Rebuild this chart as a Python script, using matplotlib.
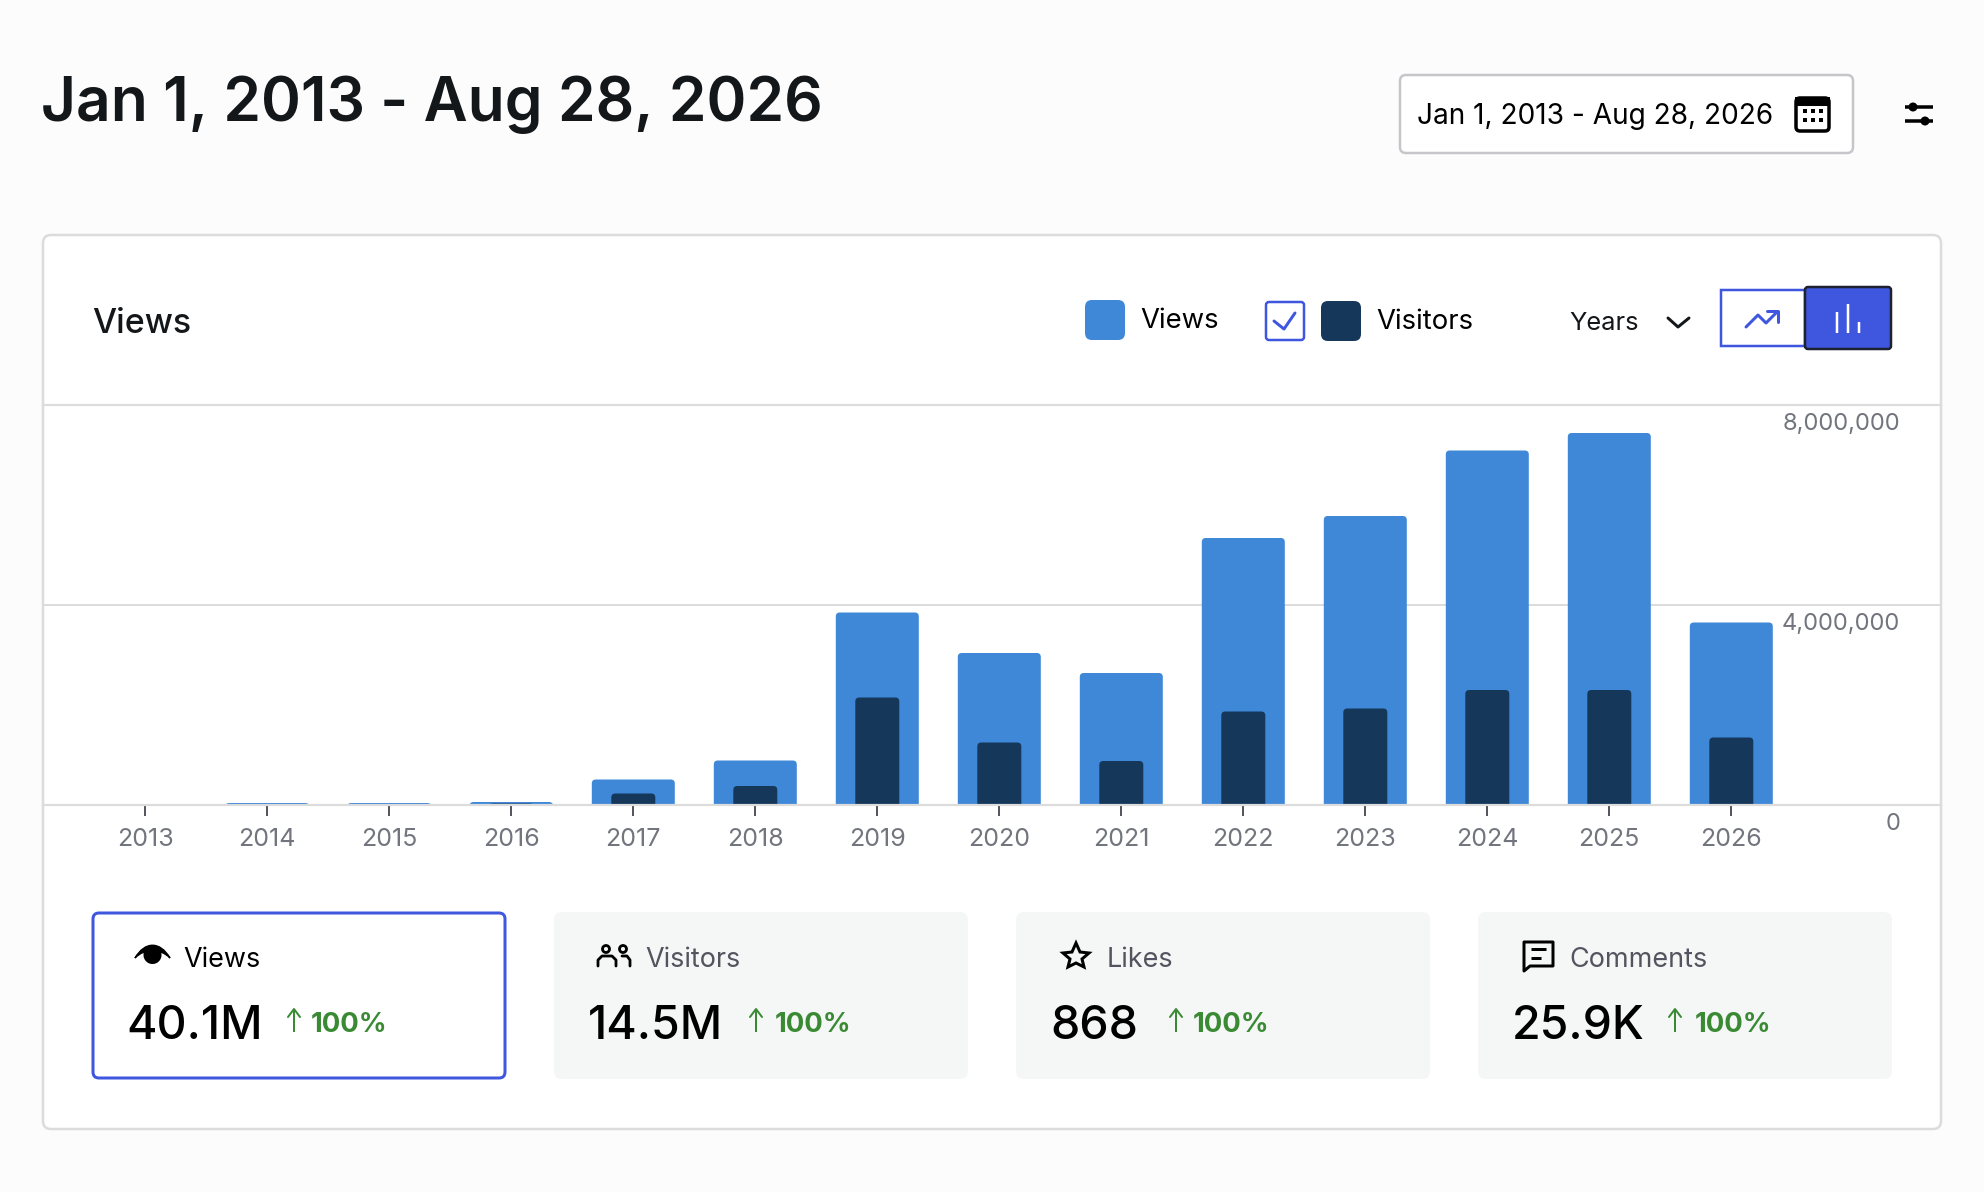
import matplotlib
matplotlib.use("Agg")
import matplotlib.pyplot as plt
import matplotlib.transforms as mtransforms
from matplotlib.patches import FancyBboxPatch, Rectangle, Circle, Wedge, Polygon, PathPatch
from matplotlib.path import Path
from matplotlib.lines import Line2D

# values
years = [2013, 2014, 2015, 2016, 2017, 2018, 2019, 2020, 2021, 2022, 2023, 2024, 2025, 2026]
views = [5000, 40000, 40000, 60000, 510000, 890000, 3850000, 3040000, 2640000,
         5340000, 5780000, 7090000, 7440000, 3650000]
visitors = [1000, 20000, 20000, 30000, 230000, 380000, 2150000, 1250000, 880000,
            1870000, 1930000, 2300000, 2300000, 1350000]
y_ticks = [0, 4000000, 8000000]
y_tick_labels = ["0", "4,000,000", "8,000,000"]

date_range = "Jan 1, 2013 - Aug 28, 2026"
stat_names = ["Views", "Visitors", "Likes", "Comments"]
stat_values = ["40.1M", "14.5M", "868", "25.9K"]
stat_change = "100%"

BLUE = "#3F88D8"
NAVY = "#15375A"
ACCENT = "#3F57DE"
GREEN = "#3A8A34"
GRID = "#DCDCDC"
GREY = "#72757D"

W, H = 1984, 1192
DPI = 100
PX = 72 / DPI  # one pixel in points

plt.rcParams["font.family"] = ["Inter", "DejaVu Sans"]

fig = plt.figure(figsize=(W / DPI, H / DPI), dpi=DPI, facecolor="#FCFCFC")

# page layer, in pixels
ui = fig.add_axes([0, 0, 1, 1])
ui.set_xlim(0, W)
ui.set_ylim(H, 0)
ui.axis("off")


def box(x0, y0, x1, y1, fc, ec="none", lw=0, r=6, z=1):
    ui.add_patch(FancyBboxPatch((x0 + r, y0 + r), x1 - x0 - 2 * r, y1 - y0 - 2 * r,
                                boxstyle=f"round,pad={r},rounding_size={r}",
                                fc=fc, ec=ec, lw=lw * PX, zorder=z))


def txt(x, y, s, size, color="black", weight="normal", ha="left"):
    ui.text(x, y, s, fontsize=size * PX, color=color, fontweight=weight,
            ha=ha, va="center_baseline", zorder=5)


def line(xs, ys, color="black", lw=2, z=6, cap="round"):
    ui.add_line(Line2D(xs, ys, color=color, lw=lw * PX, zorder=z,
                       solid_capstyle=cap, solid_joinstyle="round"))


# header
txt(41, 98, date_range, 60.5, "#14171A", "semibold")
box(1400, 75, 1853, 153, "white", "#C6C6CA", 2.5)
txt(1417, 114, date_range, 28, "black")
box(1796, 98, 1829, 131, "white", "black", 3.5, r=4, z=3)
ui.add_patch(Rectangle((1795, 97), 35, 9, fc="black", zorder=4))
for gx in [1805, 1813, 1821]:
    for gy in [111, 120]:
        ui.add_patch(Rectangle((gx - 2, gy - 2), 4, 4, fc="black", zorder=4))
line([1905, 1933], [107, 107], lw=3.5, cap="butt")
line([1905, 1933], [121, 121], lw=3.5, cap="butt")
ui.add_patch(Circle((1913, 107), 4.5, fc="black", zorder=6))
ui.add_patch(Circle((1925, 121), 4.5, fc="black", zorder=6))

# main card
box(43, 235, 1941, 1129, "white", GRID, 2.5, r=8, z=0.5)
txt(92, 320.5, "Views", 34, "#14171A", "medium")

# legend and switches
box(1085, 300, 1125, 340, BLUE, r=7)
txt(1140, 318, "Views", 27.5)
box(1266, 302, 1304, 340, "white", ACCENT, 2.5, r=3)
line([1274, 1284, 1295], [321, 329, 313], ACCENT, 3)
box(1321, 301, 1361, 341, NAVY, r=7)
txt(1376, 319, "Visitors", 27.5)
txt(1569, 321, "Years", 25.5, "#14171A")
line([1668, 1678, 1689], [318, 327, 318], "#14171A", 3)
ui.add_patch(Rectangle((1721, 290), 84, 56, fc="white", ec=ACCENT, lw=2.5 * PX, zorder=2))
line([1746, 1758, 1766, 1777], [327, 315, 323, 312], ACCENT, 3)
line([1767, 1778, 1778], [311, 311, 322], ACCENT, 3)
box(1805, 287, 1891, 349, ACCENT, "#1E2230", 2.5, r=3, z=3)
for bx, top in zip([1837, 1848, 1859], [312, 304, 322]):
    line([bx, bx], [top, 333], "white", 2.5, cap="butt")

# stat cards
card_x = [(93, 505), (554, 968), (1016, 1430), (1478, 1892)]
name_x = [183, 645, 1107, 1569]
value_x = [126, 588, 1050, 1512]
arrow_x = [294, 756, 1176, 1675]
pct_x = [311, 775, 1193, 1695]
for i in range(4):
    x0, x1 = card_x[i]
    if i == 0:
        box(x0, 913, x1, 1078, "white", ACCENT, 3, r=6)
    else:
        box(x0, 912, x1, 1079, "#F5F7F6", r=8)
    txt(name_x[i], 957, stat_names[i], 27, "black" if i == 0 else "#52555F")
    txt(value_x[i], 1022, stat_values[i], 46.5, "black", "medium")
    ax_ = arrow_x[i]
    line([ax_, ax_], [1010, 1032], GREEN, 2, cap="butt")
    line([ax_ - 6, ax_, ax_ + 6], [1017, 1009, 1017], GREEN, 2)
    txt(pct_x[i], 1022, stat_change, 27.5, GREEN, "bold")

# eye icon
ui.add_patch(PathPatch(Path([(135, 958), (145, 941), (160, 941), (170, 958), (160, 948), (145, 948), (135, 958)],
                            [Path.MOVETO, Path.CURVE4, Path.CURVE4, Path.CURVE4, Path.CURVE4, Path.CURVE4, Path.CURVE4]),
                       fc="black", ec="black", lw=1, zorder=6))
ui.add_patch(Wedge((152.5, 955), 9, 0, 360, fc="black", zorder=6))

# people icon
for cx in [606, 623]:
    ui.add_patch(Circle((cx, 949), 3.5, fc="none", ec="black", lw=2.8 * PX, zorder=6))
line([598, 598, 602, 612, 616, 616], [966, 960, 956, 956, 960, 966], lw=2.8)
line([622, 627, 630, 630], [956, 956, 960, 966], lw=2.8)

# star icon
ui.add_patch(Polygon([(1076, 943), (1080, 952), (1089, 953), (1082, 959), (1084, 967), (1076, 963),
                      (1068, 967), (1070, 959), (1063, 953), (1072, 952)],
                     fc="none", ec="black", lw=3 * PX, joinstyle="miter", zorder=6))

# comment icon
ui.add_patch(Polygon([(1524, 942), (1553, 942), (1553, 966), (1530, 966), (1524, 971)],
                     fc="none", ec="black", lw=3 * PX, joinstyle="round", zorder=6))
line([1531, 1546], [949, 949], lw=3, cap="butt")
line([1531, 1541], [958, 958], lw=3, cap="butt")

# chart area: 2013 sits at 145px and years are 122px apart
left, right = 43, 1941
top, bottom = 405, 805
ax = fig.add_axes([left / W, 1 - bottom / H, (right - left) / W, (bottom - top) / H])
ax.patch.set_alpha(0)
ax.set_xlim(2013 + (left - 145.3) / 122, 2013 + (right - 145.3) / 122)
ax.set_ylim(0, 8000000)


def round_tops(bars, radius=4):
    # swap the square tops for small rounded ones, keeping the library's bar geometry
    rx = radius / 122
    for b in bars:
        x, w, h = b.get_x(), b.get_width(), b.get_height()
        ry = min(radius * 20000, h)
        verts = [(x, 0), (x, h - ry), (x, h), (x + rx, h), (x + w - rx, h),
                 (x + w, h), (x + w, h - ry), (x + w, 0), (x, 0)]
        codes = [Path.MOVETO, Path.LINETO, Path.CURVE3, Path.CURVE3, Path.LINETO,
                 Path.CURVE3, Path.CURVE3, Path.LINETO, Path.CLOSEPOLY]
        ax.add_patch(PathPatch(Path(verts, codes), fc=b.get_facecolor(), ec="none", zorder=b.get_zorder()))
        b.set_visible(False)


round_tops(ax.bar(years, views, width=83 / 122, color=BLUE, zorder=1))
round_tops(ax.bar(years, visitors, width=44 / 122, color=NAVY, zorder=1.5))

for side in ["left", "right"]:
    ax.spines[side].set_visible(False)
for side in ["top", "bottom"]:
    ax.spines[side].set_color(GRID)
    ax.spines[side].set_linewidth(2.2 * PX)

ax.set_axisbelow(True)
ax.grid(axis="y", color=GRID, lw=2 * PX)
ax.set_xticks(years)
ax.tick_params(axis="x", length=11 * PX, width=2 * PX, color="#55585F", pad=12.5 * PX,
               labelsize=25 * PX, labelcolor=GREY)

ax.yaxis.tick_right()
ax.set_yticks(y_ticks)
ax.set_yticklabels(y_tick_labels)
ax.tick_params(axis="y", length=0, pad=-41 * PX, labelsize=23.7 * PX, labelcolor=GREY)
shift = mtransforms.ScaledTranslation(0, -18.5 / DPI, fig.dpi_scale_trans)
for lab in ax.get_yticklabels():
    lab.set_ha("right")
    lab.set_va("center")
    lab.set_transform(lab.get_transform() + shift)

fig.savefig("out.png", dpi=DPI, facecolor=fig.get_facecolor())
